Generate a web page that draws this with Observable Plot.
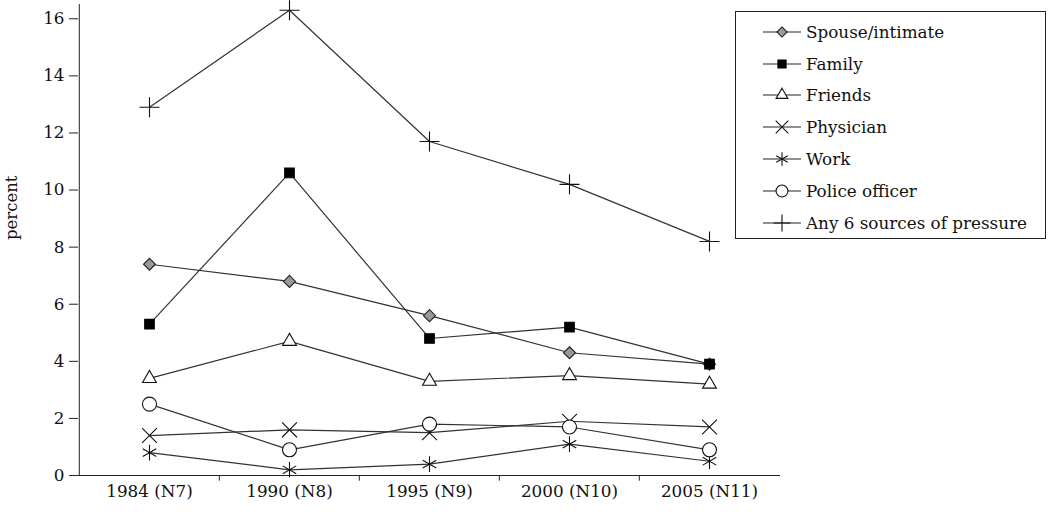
<!DOCTYPE html>
<html>
<head>
<meta charset="utf-8">
<script src="https://cdn.jsdelivr.net/npm/d3@7"></script>
<script src="https://cdn.jsdelivr.net/npm/@observablehq/plot@0.6"></script>
<style>
  html, body { margin: 0; padding: 0; background: #fff; }
  #wrap { position: relative; width: 1050px; height: 514px; font-family: "DejaVu Serif", serif; color: #111; }
  #legend { position: absolute; left: 735px; top: 11px; width: 311px; height: 228px; box-sizing: border-box; border: 1px solid #222; background: #fff; }
  .item { position: absolute; left: 27px; height: 24px; display: flex; align-items: center; font-size: 16.8px; white-space: nowrap; }
  .item svg { margin-right: 5px; }
</style>
</head>
<body>
<div id="wrap"><div id="legend"></div></div>
<script>
const categories = ["1984 (N7)", "1990 (N8)", "1995 (N9)", "2000 (N10)", "2005 (N11)"];
const seriesNames = ["Spouse/intimate", "Family", "Friends", "Physician", "Work", "Police officer", "Any 6 sources of pressure"];
const spouse    = [7.4, 6.8, 5.6, 4.3, 3.9];
const family    = [5.3, 10.6, 4.8, 5.2, 3.9];
const friends   = [3.4, 4.7, 3.3, 3.5, 3.2];
const physician = [1.4, 1.6, 1.5, 1.9, 1.7];
const work      = [0.8, 0.2, 0.4, 1.1, 0.5];
const police    = [2.5, 0.9, 1.8, 1.7, 0.9];
const any6      = [12.9, 16.3, 11.7, 10.2, 8.2];
const yTicks = [0, 2, 4, 6, 8, 10, 12, 14, 16];

const seriesValues = [spouse, family, friends, physician, work, police, any6];
const styles = [
  {symbol: "diamond2", r: 5.4, fill: "#999", stroke: "#222", d3sym: d3.symbolDiamond2},
  {symbol: "square", r: 5.4, fill: "#000", stroke: "#000", d3sym: d3.symbolSquare},
  {symbol: "triangle2", r: 6.6, fill: "#fff", stroke: "#111", d3sym: d3.symbolTriangle2},
  {symbol: "times", r: 6.8, fill: "none", stroke: "#111", d3sym: d3.symbolTimes},
  {symbol: "asterisk", r: 7.4, fill: "none", stroke: "#111", d3sym: d3.symbolAsterisk},
  {symbol: "circle", r: 7, fill: "#fff", stroke: "#111", d3sym: d3.symbolCircle},
  {symbol: "plus", r: 6.5, fill: "none", stroke: "#111", d3sym: d3.symbolPlus}
];

const rows = seriesNames.flatMap((name, s) =>
  categories.map((c, i) => ({series: name, cat: c, value: seriesValues[s][i]})));

const half = 702 / 5 / 2;
const marks = [
  Plot.ruleY([0], {stroke: "#222"}),
  Plot.ruleX([categories[0]], {dx: -half, y1: 0, y2: 16.5, stroke: "#222"}),
  Plot.ruleX(categories.slice(1), {dx: -half, y1: 0, y2: -0.2, stroke: "#222"}),
  Plot.axisY({ticks: yTicks, tickSize: 9, tickPadding: 5, label: null, stroke: "#222"}),
  Plot.axisX({tickSize: 0, tickPadding: 10, label: null}),
  Plot.text(["percent"], {frameAnchor: "left", dx: -67, rotate: -90, fontSize: 16.5})
];
seriesNames.forEach((name, s) => {
  const data = rows.filter(d => d.series === name);
  marks.push(Plot.line(data, {x: "cat", y: "value", stroke: "#333", strokeWidth: 1.2}));
});
seriesNames.forEach((name, s) => {
  const data = rows.filter(d => d.series === name);
  const st = styles[s];
  marks.push(Plot.dot(data, {x: "cat", y: "value", symbol: () => st.symbol, r: st.r, fill: st.fill, stroke: st.stroke, strokeWidth: 1.1}));
});

const chart = Plot.plot({
  width: 1050, height: 514,
  marginLeft: 78, marginRight: 270, marginTop: 4, marginBottom: 39,
  style: {fontFamily: "DejaVu Serif", fontSize: "16.8px", color: "#111", background: "transparent"},
  x: {type: "point", domain: categories, padding: 0.5, label: null},
  y: {domain: [0, 16.5], label: null},
  symbol: {domain: styles.map(s => s.symbol), range: styles.map(s => s.symbol)},
  marks
});
document.getElementById("wrap").prepend(chart);

const legend = d3.select("#legend");
seriesNames.forEach((name, s) => {
  const st = styles[s];
  const item = legend.append("div").attr("class", "item").style("top", (7.7 + s * 31.8) + "px");
  const svg = item.append("svg").attr("width", 38).attr("height", 20);
  svg.append("line").attr("x1", 0).attr("x2", 38).attr("y1", 10).attr("y2", 10).attr("stroke", "#222").attr("stroke-width", 1.2);
  const size = Math.PI * (st.r * 0.85) ** 2;
  svg.append("path").attr("transform", "translate(19,10)")
    .attr("d", d3.symbol(st.d3sym, size)())
    .attr("fill", st.fill).attr("stroke", st.stroke).attr("stroke-width", 1.1);
  item.append("span").text(name);
});
</script>
</body>
</html>
